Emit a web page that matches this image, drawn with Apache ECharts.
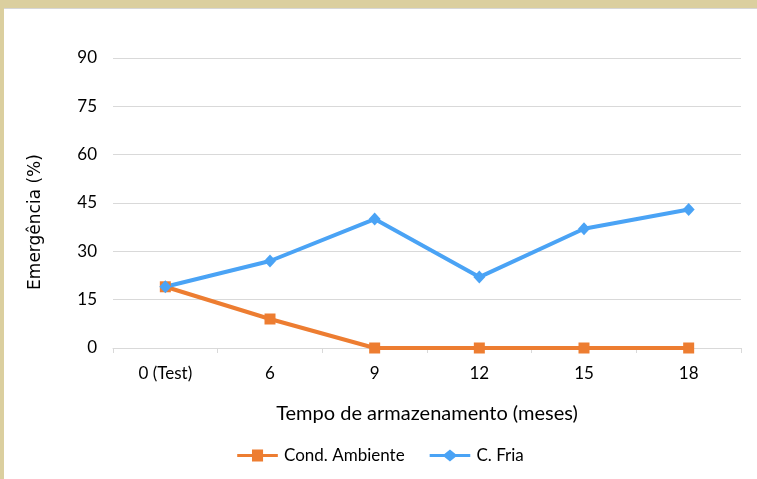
<!DOCTYPE html>
<html>
<head>
<meta charset="utf-8">
<script src="https://cdn.jsdelivr.net/npm/echarts@6/dist/echarts.min.js"></script>
<style>
  html, body { margin: 0; padding: 0; background: #dbcf9f; }
  #frame { position: absolute; left: 0; top: 0; width: 757px; height: 479px; background: #dbcf9f; }
  #chart { position: absolute; left: 4px; top: 8px; width: 753px; height: 471px; background: #ffffff; border-top: 1px solid #d6d6d6; box-sizing: border-box; }
</style>
</head>
<body>
<div id="frame"><div id="chart"></div></div>
<script>
// Storage time (months)
const categories = ['0 (Test)', '6', '9', '12', '15', '18'];
// Emergence (%) by storage condition
const condAmbiente = [19, 9, 0, 0, 0, 0];
const cFria = [19, 27, 40, 22, 37, 43];
const yTicks = [0, 15, 30, 45, 60, 75, 90];

const font = 'Lato, "Open Sans", sans-serif';
const chart = echarts.init(document.getElementById('chart'));
chart.setOption({
  animation: false,
  textStyle: { fontFamily: font },
  grid: { left: 109, right: 16, top: 49, bottom: 131 },
  legend: {
    bottom: 10,
    left: 'center',
    itemWidth: 43,
    itemHeight: 12,
    itemGap: 25,
    textStyle: { fontSize: 17, color: '#000', fontFamily: font },
    data: [
      { name: 'Cond. Ambiente', icon: 'path://M0,5 L16,5 L16,0 L28,0 L28,5 L44,5 L44,8 L28,8 L28,13 L16,13 L16,8 L0,8 Z' },
      { name: 'C. Fria', icon: 'path://M0,5 L16,5 L22,0 L28,5 L44,5 L44,8 L28,8 L22,13 L16,8 L0,8 Z' }
    ]
  },
  xAxis: {
    type: 'category',
    data: categories,
    boundaryGap: true,
    name: 'Tempo de armazenamento (meses)',
    nameLocation: 'middle',
    nameGap: 56,
    nameTextStyle: { fontSize: 20, color: '#000', fontFamily: font },
    axisLine: { show: true, lineStyle: { color: '#d9d9d9', width: 1 } },
    axisTick: { show: true, length: 5, alignWithLabel: false, lineStyle: { color: '#d9d9d9' } },
    axisLabel: { fontSize: 17, color: '#000', margin: 17, fontFamily: font }
  },
  yAxis: {
    type: 'value',
    min: 0,
    max: 90,
    interval: 15,
    name: 'Emergência (%)',
    nameLocation: 'middle',
    nameGap: 69,
    nameTextStyle: { fontSize: 17, color: '#000', fontFamily: '"DejaVu Sans", sans-serif', padding: [0, 38, 0, 0] },
    axisLine: { show: false },
    axisTick: { show: false },
    axisLabel: { fontSize: 17, color: '#000', margin: 16, fontFamily: font,
      formatter: v => yTicks.includes(v) ? String(v) : '' },
    splitLine: { lineStyle: { color: '#d9d9d9', width: 1 } }
  },
  series: [
    {
      name: 'Cond. Ambiente',
      type: 'line',
      data: condAmbiente,
      color: '#ed7d31',
      symbol: 'rect',
      symbolSize: 11,
      lineStyle: { width: 4, color: '#ed7d31' },
      itemStyle: { color: '#ed7d31' }
    },
    {
      name: 'C. Fria',
      type: 'line',
      data: cFria,
      color: '#4aa3f5',
      symbol: 'diamond',
      symbolSize: [12, 13],
      lineStyle: { width: 4, color: '#4aa3f5' },
      itemStyle: { color: '#4aa3f5' }
    }
  ]
});
</script>
</body>
</html>
